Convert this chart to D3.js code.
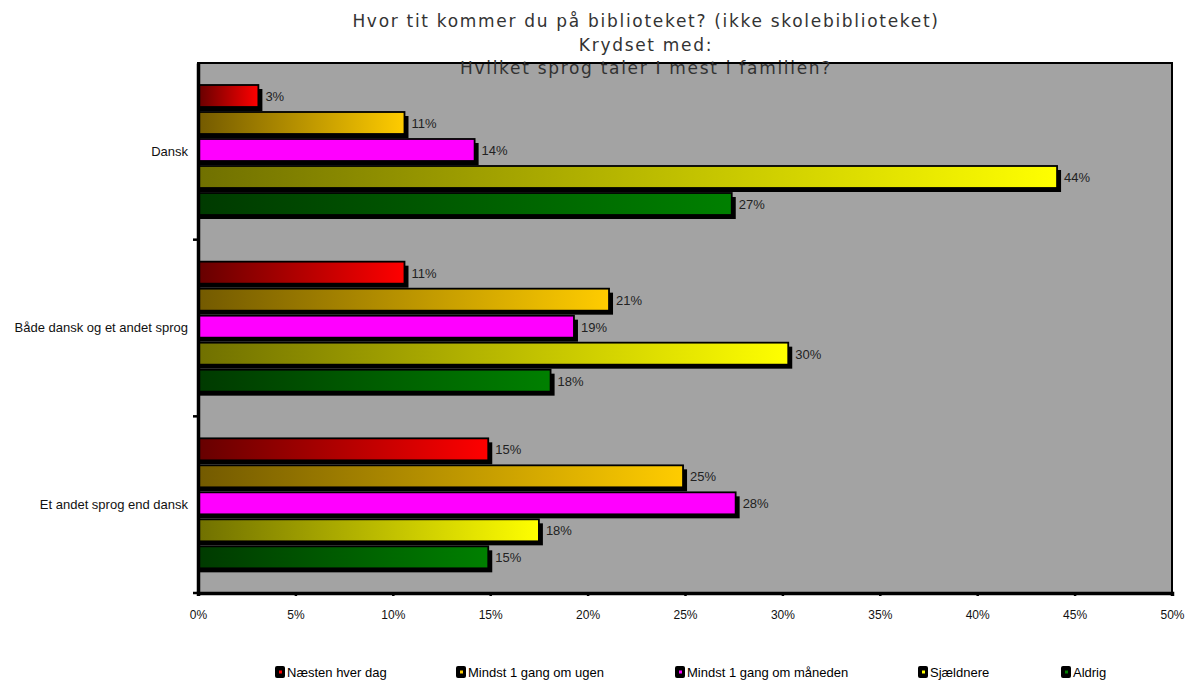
<!DOCTYPE html>
<html>
<head>
<meta charset="utf-8">
<script src="https://cdn.jsdelivr.net/npm/d3@7"></script>
<style>
  body { margin: 0; background: #fff; }
  text { font-family: "Liberation Sans", Arial, sans-serif; }
</style>
</head>
<body>
<svg id="plot" width="1187" height="680"></svg>
<script>
// Data
const categories = ['Dansk', 'Både dansk og et andet sprog', 'Et andet sprog end dansk'];
const series = ['Næsten hver dag', 'Mindst 1 gang om ugen', 'Mindst 1 gang om måneden', 'Sjældnere', 'Aldrig'];
const values = {
    'Dansk': [3.1, 10.6, 14.2, 44.1, 27.4],
    'Både dansk og et andet sprog': [10.6, 21.1, 19.3, 30.3, 18.1],
    'Et andet sprog end dansk': [14.9, 24.9, 27.6, 17.5, 14.9]
};
const xTicks = [0, 5, 10, 15, 20, 25, 30, 35, 40, 45, 50];
const titleLines = ['Hvor tit kommer du på biblioteket? (ikke skolebiblioteket)', 'Krydset med:', 'Hvilket sprog taler I mest i familien?'];

// colours: [dark start, bright end]
const colors = [
    ['#660000', '#ff0000'],
    ['#735a00', '#ffcc00'],
    ['#ff00ff', '#ff00ff'],
    ['#707000', '#ffff00'],
    ['#003a00', '#008000']
];

let margin = { top: 63, left: 198, right: 15, bottom: 87 };
let width = 1172 - margin.left;
let height = 593 - margin.top;

let root = d3.select('#plot');
let defs = root.append('defs');

series.forEach((s, i) => {
    let g = defs.append('linearGradient')
        .attr('id', 'grad' + i)
        .attr('x1', '0%').attr('x2', '100%')
        .attr('y1', '0%').attr('y2', '0%');
    g.append('stop').attr('offset', '0%').attr('stop-color', colors[i][0]);
    g.append('stop').attr('offset', '100%').attr('stop-color', colors[i][1]);
});

let svg = root.append('g')
    .attr('transform', `translate(${margin.left}, ${margin.top})`);

// plot background
svg.append('rect')
    .attr('width', width)
    .attr('height', height)
    .attr('fill', '#a3a3a3')
    .attr('stroke', '#000')
    .attr('stroke-width', 2);

// scales
let xScale = d3.scaleLinear().domain([0, 50]).range([0, width]);
let yScale = d3.scaleBand().domain(categories).range([0, height]);
let ySub = d3.scaleBand().domain(series)
    .range([22, 152])
    .paddingInner(0.185)
    .paddingOuter(0);

// bars
let groups = svg.selectAll('.group')
    .data(categories)
    .enter()
    .append('g')
    .attr('class', 'group')
    .attr('transform', d => `translate(0, ${yScale(d)})`);

let bars = groups.selectAll('.bar')
    .data(c => values[c].map((v, i) => ({ s: series[i], i: i, v: v })))
    .enter()
    .append('g')
    .attr('class', 'bar');

// shadow
bars.append('rect')
    .attr('x', 0)
    .attr('y', d => ySub(d.s) + 4)
    .attr('width', d => xScale(d.v) + 4)
    .attr('height', ySub.bandwidth())
    .attr('fill', '#000');

bars.append('rect')
    .attr('x', 0)
    .attr('y', d => ySub(d.s))
    .attr('width', d => xScale(d.v))
    .attr('height', ySub.bandwidth())
    .attr('fill', d => `url(#grad${d.i})`)
    .attr('stroke', '#000')
    .attr('stroke-width', 1.8);

bars.append('text')
    .attr('x', d => xScale(d.v) + 7)
    .attr('y', d => ySub(d.s) + ySub.bandwidth() / 2 + 5)
    .attr('font-size', 13)
    .attr('fill', '#222')
    .text(d => Math.round(d.v) + '%');

// x axis
let xAxis = svg.append('g')
    .attr('transform', `translate(0, ${height})`)
    .call(d3.axisBottom(xScale).tickValues(xTicks).tickFormat(d => d + '%').tickSize(3).tickPadding(14));
xAxis.select('.domain').attr('stroke-width', 3.5);
xAxis.selectAll('.tick line').attr('stroke-width', 2.5);
xAxis.selectAll('text').attr('font-size', 12).attr('fill', '#111')
    .style('font-family', '"Liberation Sans", Arial, sans-serif');

// y axis
let yAxis = svg.append('g')
    .call(d3.axisLeft(yScale).tickSize(0).tickPadding(10));
yAxis.select('.domain').attr('stroke-width', 3.5);
yAxis.selectAll('text').attr('font-size', 13).attr('fill', '#111')
    .style('font-family', '"Liberation Sans", Arial, sans-serif');

// category separator ticks
svg.append('g')
    .selectAll('line')
    .data(categories.slice(1).concat(['end']))
    .enter()
    .append('line')
    .attr('x1', -5).attr('x2', 0)
    .attr('y1', (d, i) => i < 2 ? yScale(d) : height)
    .attr('y2', (d, i) => i < 2 ? yScale(d) : height)
    .attr('stroke', '#000')
    .attr('stroke-width', 2.5);

// title
root.append('g')
    .selectAll('text')
    .data(titleLines)
    .enter()
    .append('text')
    .attr('x', 646)
    .attr('y', (d, i) => 27 + i * 23.5)
    .attr('text-anchor', 'middle')
    .attr('font-size', 17)
    .attr('fill', '#333')
    .style('font-family', '"DejaVu Sans", Verdana, sans-serif')
    .style('letter-spacing', '1.7px')
    .text(d => d);

// legend
const legendX = [275, 456, 675, 918, 1061];
let legend = root.selectAll('.legend')
    .data(series)
    .enter()
    .append('g')
    .attr('class', 'legend')
    .attr('transform', (d, i) => `translate(${legendX[i]}, 666)`);

legend.append('rect')
    .attr('width', 10)
    .attr('height', 12)
    .attr('rx', 2)
    .attr('fill', '#000');

legend.append('rect')
    .attr('x', 4).attr('y', 4.5)
    .attr('width', 3).attr('height', 3)
    .attr('fill', (d, i) => colors[i][1]);

legend.append('text')
    .attr('x', 12)
    .attr('y', 11)
    .attr('font-size', 13)
    .attr('fill', '#000')
    .text(d => d);
</script>
</body>
</html>
